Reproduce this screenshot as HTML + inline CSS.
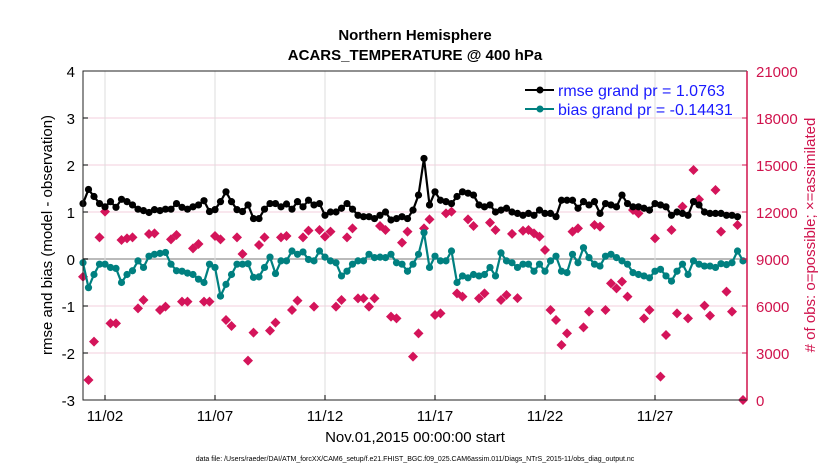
<!DOCTYPE html>
<html><head><meta charset="utf-8"><style>
body{margin:0;background:#fff;}
svg{display:block;font-family:"Liberation Sans",sans-serif;}
</style></head><body>
<svg id="chart" width="830" height="470" xmlns="http://www.w3.org/2000/svg">
<text x="415" y="40" text-anchor="middle" font-size="15" font-weight="bold">Northern Hemisphere</text>
<text x="415" y="60" text-anchor="middle" font-size="15" font-weight="bold">ACARS_TEMPERATURE @ 400 hPa</text>
<g id="grid"></g><g id="marks"></g><g id="axes"></g>
<text x="415" y="442" text-anchor="middle" font-size="15">Nov.01,2015 00:00:00 start</text>
<text transform="translate(52,235) rotate(-90)" text-anchor="middle" font-size="15">rmse and bias (model - observation)</text>
<text transform="translate(815,235) rotate(-90)" text-anchor="middle" font-size="15" fill="#d0134d"># of obs: o=possible; ×=assimilated</text>
<text x="415" y="461" text-anchor="middle" font-size="7">data file: /Users/raeder/DAI/ATM_forcXX/CAM6_setup/f.e21.FHIST_BGC.f09_025.CAM6assim.011/Diags_NTrS_2015-11/obs_diag_output.nc</text>
<g>
<line x1="525" y1="90" x2="554" y2="90" stroke="#000" stroke-width="2"/><circle cx="540" cy="90" r="3.5" fill="#000"/>
<text x="558" y="96" font-size="16" fill="#1a1aff">rmse grand pr = 1.0763</text>
<line x1="525" y1="109" x2="554" y2="109" stroke="#008080" stroke-width="2"/><circle cx="540" cy="109" r="3.5" fill="#008080"/>
<text x="558" y="115" font-size="16" fill="#1a1aff">bias grand pr = -0.14431</text>
</g>
</svg>
<script>
const rmse=[1.18,1.48,1.33,1.18,1.11,1.22,1.1,1.27,1.22,1.15,1.06,1.03,0.99,1.05,1.03,1.06,1.06,1.18,1.1,1.06,1.11,1.15,1.24,1.01,1.05,1.22,1.43,1.22,1.05,1.01,1.15,0.86,0.86,1.06,1.18,1.18,1.11,1.17,1.06,1.22,1.11,
1.25,1.15,1.18,0.93,1.0,1.0,1.08,1.18,1.06,0.93,0.9,0.9,0.86,0.93,1.0,0.83,0.86,0.9,0.86,1.04,1.36,2.14,1.15,1.43,1.25,1.22,1.18,1.33,1.43,1.4,1.36,1.15,1.11,1.15,1.0,1.04,1.08,1.0,0.97,0.93,
0.97,0.93,1.04,0.97,0.97,0.9,1.25,1.25,1.25,1.08,1.22,1.15,1.22,0.97,1.18,1.15,1.11,1.36,1.18,1.11,1.11,1.08,1.04,1.18,1.15,1.11,0.93,1.0,0.97,0.93,1.22,1.15,1.0,0.97,0.97,0.97,0.93,0.93,0.9];
const bias=[-0.08,-0.61,-0.33,-0.11,-0.11,-0.18,-0.2,-0.5,-0.33,-0.25,-0.04,-0.18,0.06,0.1,0.12,0.14,-0.11,-0.25,-0.26,-0.3,-0.33,-0.43,-0.5,-0.11,-0.18,-0.79,-0.54,-0.33,-0.11,-0.11,-0.1,-0.39,-0.38,-0.18,0.04,-0.31,-0.04,-0.04,0.17,0.1,0.15,
-0.01,-0.04,0.17,0.04,-0.04,-0.08,-0.36,-0.26,-0.11,-0.04,-0.04,0.1,0.03,0.04,0.03,0.1,-0.08,-0.11,-0.26,-0.11,0.1,0.56,-0.18,0.06,-0.04,-0.04,0.17,-0.5,-0.36,-0.4,-0.33,-0.36,-0.33,-0.18,-0.36,0.13,-0.04,-0.08,-0.18,-0.11,
-0.11,-0.26,-0.11,-0.26,-0.04,0.06,-0.26,-0.29,0.1,-0.08,0.24,0.03,-0.11,-0.15,0.06,0.1,0.03,-0.04,-0.11,-0.29,-0.33,-0.36,-0.4,-0.26,-0.22,-0.36,-0.47,-0.26,-0.11,-0.33,-0.04,-0.11,-0.15,-0.15,-0.18,-0.1,-0.12,-0.08,0.17,-0.04];
const obs=[7866,1277,3723,10383,12021,4894,4894,10213,10319,10383,5851,6383,10596,10638,5745,5957,10255,10532,6277,6277,9681,9957,6277,6277,10468,10255,5106,4723,10383,9319,2511,4298,9894,10383,4426,4936,10383,10468,5745,6340,10383,10808,5957,
10851,10425,10745,5957,6383,10383,10957,6489,6489,5957,6489,11106,10851,5319,5213,10043,10745,2766,4255,10957,11532,5425,5532,11915,12021,6809,6596,11532,11106,6489,6809,11319,10851,6383,6702,10600,6500,10800,
10851,10638,10425,9574,5745,5106,3511,4255,10745,10957,4638,5638,11170,11064,5745,7447,7128,7553,6596,12127,11915,5213,5745,10319,1489,4149,10851,5532,12340,5213,14681,12808,6021,5383,13404,10745,6915,5638,11170,0];
const leftTicks=[-3,-2,-1,0,1,2,3,4];
const rightTicks=[0,3000,6000,9000,12000,15000,18000,21000];
const dateTicks=["11/02","11/07","11/12","11/17","11/22","11/27"];
const dateDays=[1,6,11,16,21,26];
const X0=83,X1=747,Y0=71,Y1=400;
const xDay=d=>X0+d*22;
const yL=v=>Y1-(v+3)/7*(Y1-Y0);
const yR=v=>Y1-v/21000*(Y1-Y0);
const NS="http://www.w3.org/2000/svg";
function mk(p,t,a){const e=document.createElementNS(NS,t);for(const k in a)e.setAttribute(k,a[k]);p.appendChild(e);return e;}
const grid=document.getElementById('grid'),marks=document.getElementById('marks'),axes=document.getElementById('axes');
leftTicks.forEach(v=>{const l=mk(grid,'line',{x1:X0,x2:X1,y1:yL(v),y2:yL(v),stroke:v===0?'#bbb':'#f3cfdc','stroke-width':v===0?2:1});


const t=mk(axes,'text',{x:X0-8,y:yL(v)+6,'text-anchor':'end','font-size':15});t.textContent=v;


mk(axes,'line',{x1:X0,x2:X0+5,y1:yL(v),y2:yL(v),stroke:'#000'});});
rightTicks.forEach(v=>{const t=mk(axes,'text',{x:X1+9,y:yR(v)+6,'font-size':15,fill:'#d0134d'});t.textContent=v;


mk(axes,'line',{x1:X1-5,x2:X1,y1:yR(v),y2:yR(v),stroke:'#d0134d'});});
dateTicks.forEach((s,i)=>{const x=xDay(dateDays[i]);const l=mk(grid,'line',{x1:x,x2:x,y1:Y0,y2:Y1,stroke:'#ddd'});


mk(axes,'line',{x1:x,x2:x,y1:Y1,y2:Y1-5,stroke:'#000'});
const t=mk(axes,'text',{x:x,y:Y1+21,'text-anchor':'middle','font-size':15});t.textContent=s;

});
const fr=mk(axes,'path',{d:`M${X1},${Y0}H${X0}V${Y1}H${X1}`,fill:'none',stroke:'#222'});


const ra=mk(axes,'line',{x1:X1,x2:X1,y1:Y0,y2:Y1,stroke:'#d0134d','stroke-width':1.5});


obs.forEach((v,i)=>{const x=xDay(i*0.25),y=yR(v);
const p=mk(marks,'path',{d:`M${x},${y-5}L${x+5},${y}L${x},${y+5}L${x-5},${y}Z`,fill:'#d4145a'});

});
function series(arr,col,name){const d=arr.map((v,i)=>(i?'L':'M')+xDay(i*0.25)+','+yL(v)).join('');
const l=mk(marks,'path',{d:d,fill:'none',stroke:col,'stroke-width':2.2});


arr.forEach((v,i)=>{const c=mk(marks,'circle',{cx:xDay(i*0.25),cy:yL(v),r:3.6,fill:col});

});}
series(bias,'#008080','bias');
series(rmse,'#000','rmse');
</script>
</body></html>
